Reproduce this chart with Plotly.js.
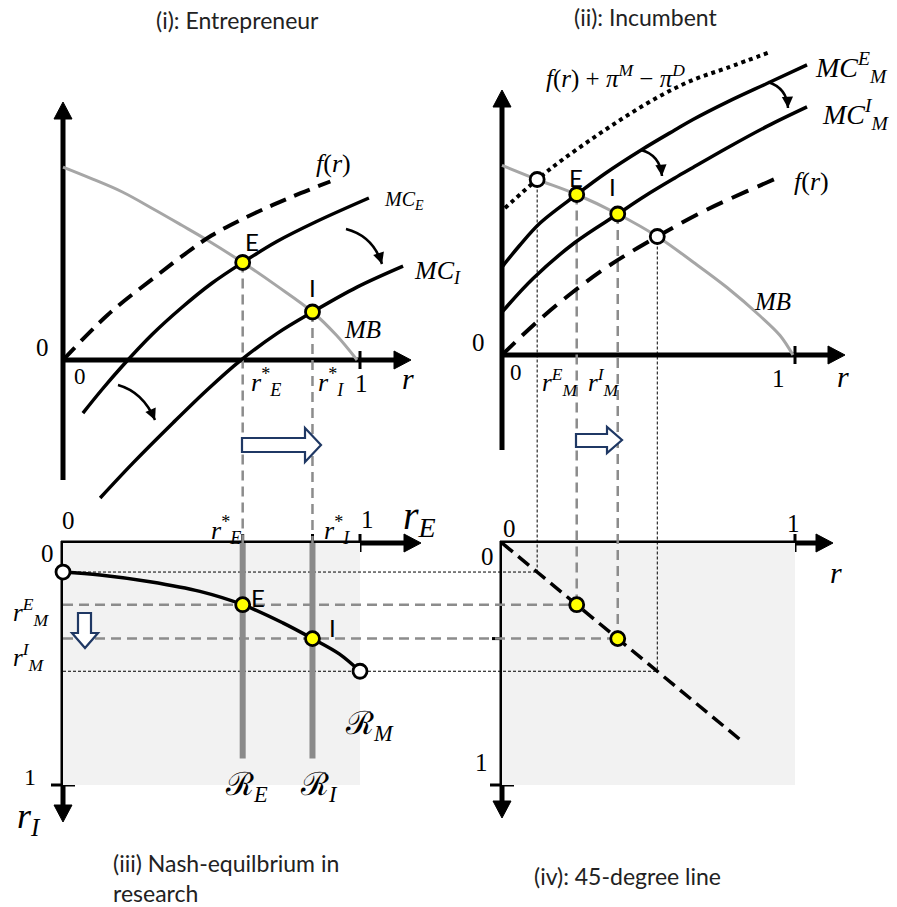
<!DOCTYPE html>
<html>
<head>
<meta charset="utf-8">
<script src="https://cdn.plot.ly/plotly-3.0.1.min.js"></script>
<style>
  html, body { margin: 0; padding: 0; background: #fff; }
  #chart { width: 897px; height: 907px; }
</style>
</head>
<body>
<div id="chart"></div>
<script>
// ---------------- data ----------------
// (i) Entrepreneur: marginal benefit, f(r) and marginal cost curves
const mbEntR = [0, 0.1, 0.2, 0.31, 0.40, 0.485, 0.605, 0.72, 0.84, 0.92, 0.99];
const mbEntV = [0.643, 0.603, 0.56, 0.50, 0.449, 0.40, 0.325, 0.247, 0.16, 0.083, 0];
const fEntR = [0, 0.15, 0.31, 0.42, 0.50, 0.605, 0.707, 0.80, 0.90];
const fEntV = [0, 0.15, 0.277, 0.36, 0.415, 0.47, 0.517, 0.556, 0.595];
const mcER = [0.067, 0.13, 0.2, 0.3, 0.4, 0.5, 0.605, 0.72, 0.85, 1.03];
const mcEV = [-0.177, -0.10, -0.02, 0.085, 0.175, 0.255, 0.325, 0.395, 0.46, 0.54];
const mcIR = [0.125, 0.236, 0.37, 0.485, 0.596, 0.72, 0.84, 0.99, 1.145];
const mcIV = [-0.46, -0.343, -0.21, -0.10, -0.003, 0.088, 0.16, 0.243, 0.313];
const rStar = [0.605, 0.84];        // r_E*, r_I*
const mbAtStar = [0.325, 0.16];     // MB at E and I

// (ii) Incumbent
const mbMR = [0, 0.12, 0.255, 0.395, 0.53, 0.652, 0.768, 0.881, 0.949, 0.993];
const mbMV = [0.632, 0.585, 0.535, 0.47, 0.395, 0.31, 0.225, 0.13, 0.065, 0];
const fMR = [0, 0.119, 0.242, 0.369, 0.53, 0.686, 0.788, 0.904, 0.932];
const fMV = [0, 0.11, 0.21, 0.30, 0.395, 0.478, 0.525, 0.575, 0.587];
const fPiR = [0.01, 0.12, 0.205, 0.317, 0.43, 0.546, 0.652, 0.768, 0.915];
const fPiV = [0.49, 0.585, 0.65, 0.727, 0.80, 0.867, 0.917, 0.957, 1.01];
const mcMER = [0, 0.06, 0.13, 0.255, 0.352, 0.478, 0.59, 0.652, 0.768, 0.904, 1.041];
const mcMEV = [0.293, 0.365, 0.44, 0.535, 0.605, 0.685, 0.75, 0.785, 0.843, 0.905, 0.967];
const mcMIR = [0, 0.106, 0.249, 0.395, 0.488, 0.59, 0.652, 0.768, 0.904, 1.041];
const mcMIV = [0.143, 0.255, 0.375, 0.47, 0.53, 0.59, 0.625, 0.69, 0.762, 0.827];
const rM = [0.255, 0.395];          // r_M^E, r_M^I
const mbAtRM = [0.535, 0.47];
const rBounds = [0.12, 0.53];       // incumbent's research when r_E = 0 and r_E = 1
const mbAtBounds = [0.585, 0.395];

// (iii) Reaction functions
const rmRE = [0, 0.125, 0.293, 0.461, 0.605, 0.74, 0.84, 0.93, 1.0];
const rmRI = [0.12, 0.132, 0.16, 0.2, 0.255, 0.33, 0.395, 0.458, 0.53];
const reactRI = [0, 0.89];

// (iv) 45-degree line
const diagR = [0, 0.81];

// ---------------- frames ----------------
const W = 897, H = 907;
// origin pixel and pixels per unit for each coordinate system
const FX_L = {o: 63, u: 297};
const FX_R = {o: 502, u: 293};
const FY_I = {o: 360, u: 300, down: false};
const FY_II = {o: 355, u: 300, down: false};
const FY_B = {o: 543, u: 242, down: true};

const xr = f => [-f.o / f.u, (W - f.o) / f.u];
const yr = f => f.down ? [(H - f.o) / f.u, -f.o / f.u] : [(f.o - H) / f.u, f.o / f.u];
const ypx = (f, v) => f.down ? f.o + v * f.u : f.o - v * f.u;
const yval = (f, p) => f.down ? (p - f.o) / f.u : (f.o - p) / f.u;
const xpx = (f, v) => f.o + v * f.u;
const xval = (f, p) => (p - f.o) / f.u;
const X = p => p / W, Y = p => 1 - p / H;

const SERIF = '"Liberation Serif", "DejaVu Serif", serif';
const SANS = 'Lato, "Open Sans", sans-serif';
const GUIDE = '#8c8c8c';

// ---------------- traces ----------------
const traces = [];
function curve(x, y, xa, ya, color, width, dash) {
  traces.push({type: 'scatter', mode: 'lines', x, y, xaxis: xa, yaxis: ya,
    line: {color, width, dash: dash || 'solid', shape: 'spline', smoothing: 1},
    hoverinfo: 'skip'});
}
function points(x, y, xa, ya, fill) {
  traces.push({type: 'scatter', mode: 'markers', x, y, xaxis: xa, yaxis: ya,
    marker: {size: 14, color: fill, line: {color: '#000', width: 2.8}},
    hoverinfo: 'skip', cliponaxis: false});
}

// (i)
curve(mbEntR, mbEntV, 'x', 'y', '#a6a6a6', 3);
curve(fEntR, fEntV, 'x', 'y', '#000', 4, '17px,9px');
curve(mcER, mcEV, 'x', 'y', '#000', 3.5);
curve(mcIR, mcIV, 'x', 'y', '#000', 3.5);
// (ii)
curve(mbMR, mbMV, 'x2', 'y2', '#a6a6a6', 3);
curve(fMR, fMV, 'x2', 'y2', '#000', 4, '18px,10px');
curve(fPiR, fPiV, 'x2', 'y2', '#000', 4, 'dot');
curve(mcMER, mcMEV, 'x2', 'y2', '#000', 3.5);
curve(mcMIR, mcMIV, 'x2', 'y2', '#000', 3.5);
// (iii)
rStar.forEach(r => curve([r, r], reactRI, 'x', 'y3', '#8a8a8a', 6));
curve(rmRE, rmRI, 'x', 'y3', '#000', 3.5);
// (iv)
curve(diagR, diagR, 'x2', 'y3', '#000', 3.5, '14px,7px');

// equilibrium and boundary points
points(rStar, mbAtStar, 'x', 'y', '#ffff00');
points(rBounds, mbAtBounds, 'x2', 'y2', '#ffffff');
points(rM, mbAtRM, 'x2', 'y2', '#ffff00');
points([0, 1], rBounds, 'x', 'y3', '#ffffff');
points(rStar, rM, 'x', 'y3', '#ffff00');
points(rM, rM, 'x2', 'y3', '#ffff00');

// ---------------- shapes ----------------
const shapes = [];
// shaded unit squares of the lower panels
shapes.push({type: 'rect', xref: 'x', yref: 'y3', x0: 0, x1: 1, y0: 0, y1: 1,
  fillcolor: '#f2f2f2', line: {width: 0}, layer: 'below'});
shapes.push({type: 'rect', xref: 'x2', yref: 'y3', x0: 0, x1: 1, y0: 0, y1: 1,
  fillcolor: '#f2f2f2', line: {width: 0}, layer: 'below'});

function seg(xref, yref, x0, y0, x1, y1, color, width, dash) {
  shapes.push({type: 'line', xref, yref, x0, y0, x1, y1,
    line: {color, width, dash}, layer: 'below'});
}
// guides from panel (i) down to the r_E axis of panel (iii)
rStar.forEach((r, i) => seg('x', 'y', r, mbAtStar[i], r, yval(FY_I, ypx(FY_B, 0)), GUIDE, 2.5, '10px,6px'));
// guides from panel (ii) down to the 45-degree line
rM.forEach((r, i) => seg('x2', 'y2', r, mbAtRM[i], r, yval(FY_II, ypx(FY_B, r)), GUIDE, 2.5, '10px,6px'));
rBounds.forEach((r, i) => seg('x2', 'y2', r, mbAtBounds[i], r, yval(FY_II, ypx(FY_B, r)), '#000', 1, '3px,2px'));
// horizontal guides from the r_I axis across to panel (iv)
const leftEdge = xval(FX_R, xpx(FX_L, 0));
rM.forEach(r => seg('x2', 'y3', leftEdge, r, r, r, GUIDE, 2.5, '10px,6px'));
rBounds.forEach(r => seg('x2', 'y3', leftEdge, r, r, r, '#000', 1, '3px,2px'));

// axes with arrowheads (pixel frame)
function axis(x0, y0, x1, y1) {
  shapes.push({type: 'line', xref: 'paper', yref: 'paper', x0: X(x0), y0: Y(y0), x1: X(x1), y1: Y(y1),
    line: {color: '#000', width: 5}, layer: 'below'});
}
function head(tx, ty, dir) {
  const L = 17, h = 9;
  let p;
  if (dir === 'up') p = [[tx, ty], [tx - h, ty + L], [tx + h, ty + L]];
  else if (dir === 'down') p = [[tx, ty], [tx - h, ty - L], [tx + h, ty - L]];
  else p = [[tx, ty], [tx - L, ty - h], [tx - L, ty + h]];
  shapes.push({type: 'path', xref: 'paper', yref: 'paper',
    path: 'M' + p.map(q => X(q[0]) + ',' + Y(q[1])).join(' L') + ' Z',
    fillcolor: '#000', line: {color: '#000', width: 1}, layer: 'below'});
}
function tick(x0, y0, x1, y1) {
  shapes.push({type: 'line', xref: 'paper', yref: 'paper', x0: X(x0), y0: Y(y0), x1: X(x1), y1: Y(y1),
    line: {color: '#000', width: 3}, layer: 'below'});
}
// (i)
axis(FX_L.o, 480, FX_L.o, 112); head(FX_L.o, 102, 'up');
axis(FX_L.o - 2, FY_I.o, 400, FY_I.o); head(411, FY_I.o, 'right');
tick(xpx(FX_L, 1), FY_I.o - 9, xpx(FX_L, 1), FY_I.o + 9);
// (ii)
axis(FX_R.o, 450, FX_R.o, 100); head(FX_R.o, 90, 'up');
axis(FX_R.o - 2, FY_II.o, 834, FY_II.o); head(845, FY_II.o, 'right');
tick(xpx(FX_R, 1), FY_II.o - 9, xpx(FX_R, 1), FY_II.o + 9);
// (iii)
axis(FX_L.o - 2, FY_B.o, 410, FY_B.o); head(421, FY_B.o, 'right');
axis(FX_L.o, FY_B.o - 2, FX_L.o, 812); head(FX_L.o, 822, 'down');
rStar.concat([1]).forEach(r => tick(xpx(FX_L, r), FY_B.o - 9, xpx(FX_L, r), FY_B.o + 9));
tick(FX_L.o - 12, ypx(FY_B, 1), FX_L.o + 12, ypx(FY_B, 1));
// (iv)
axis(FX_R.o - 2, FY_B.o, 822, FY_B.o); head(833, FY_B.o, 'right');
axis(FX_R.o, FY_B.o - 2, FX_R.o, 808); head(FX_R.o, 818, 'down');
tick(xpx(FX_R, 1), FY_B.o - 9, xpx(FX_R, 1), FY_B.o + 9);
tick(FX_R.o - 12, ypx(FY_B, 1), FX_R.o + 12, ypx(FY_B, 1));
tick(FX_R.o - 10, ypx(FY_B, rM[1]), FX_R.o + 12, ypx(FY_B, rM[1]));

// hollow block arrows
function block(pts) {
  shapes.push({type: 'path', xref: 'paper', yref: 'paper',
    path: 'M' + pts.map(q => X(q[0]) + ',' + Y(q[1])).join(' L') + ' Z',
    fillcolor: '#ffffff', line: {color: '#1f3864', width: 2.2}, layer: 'above'});
}
block([[242, 438], [305, 438], [305, 428], [321, 445], [305, 462], [305, 452], [242, 452]]);
block([[576, 434], [607, 434], [607, 427], [622, 440], [607, 453], [607, 447], [576, 447]]);
block([[78, 613], [78, 633], [72, 633], [85, 648], [98, 633], [91, 633], [91, 613]]);

// ---------------- annotations ----------------
const annotations = [];
function T(x, y, text, size, o = {}) {
  annotations.push({xref: 'paper', yref: 'paper', x: X(x), y: Y(y), text, showarrow: false,
    xanchor: o.xa || 'center', yanchor: o.ya || 'middle', align: o.align || 'center',
    font: {family: o.family || SERIF, size, color: o.color || '#000'}});
}
// symbol with superscript and subscript, e.g. r*_E or MC^E_M
function script(left, cy, base, sup, sub, size) {
  T(left, cy, '<i>' + base + '</i><sup>' + sup + '</sup><sub><i>' + sub + '</i></sub>', size, {xa: 'left'});
}
// curved shift arrows
function curvedArrow(p0, c, p1) {
  shapes.push({type: 'path', xref: 'paper', yref: 'paper',
    path: 'M' + X(p0[0]) + ',' + Y(p0[1]) + ' Q' + X(c[0]) + ',' + Y(c[1]) + ' ' + X(p1[0]) + ',' + Y(p1[1]),
    line: {color: '#000', width: 2.5}, layer: 'above'});
  const dx = p1[0] - c[0], dy = p1[1] - c[1], L = Math.hypot(dx, dy);
  annotations.push({xref: 'paper', yref: 'paper', x: X(p1[0]), y: Y(p1[1]),
    ax: -dx / L * 12, ay: -dy / L * 12, text: '', showarrow: true,
    arrowhead: 2, arrowsize: 0.9, arrowwidth: 2.5, arrowcolor: '#000', standoff: 0});
}
curvedArrow([346, 229], [373, 236], [382, 264]);
curvedArrow([118, 385], [143, 392], [155, 420]);
curvedArrow([641, 150], [660, 155], [662, 176]);
curvedArrow([768, 82], [787, 88], [788, 108]);

// panel titles
const TITLE = {family: SANS, color: '#222'};
T(237, 20, '(i): Entrepreneur', 23, TITLE);
T(645, 17, '(ii): Incumbent', 23, TITLE);
T(111, 878, '(iii) Nash-equilbrium in<br>research', 23, Object.assign({xa: 'left', align: 'left'}, TITLE));
T(627, 876, '(iv): 45-degree line', 23, TITLE);

// (i) labels
T(333, 164, '<i>f</i>(<i>r</i>)', 26);
T(382, 200, '<i>MC</i><sub><i>E</i></sub>', 20, {xa: 'left'});
T(412, 272, '<i>MC</i><sub><i>I</i></sub>', 26, {xa: 'left'});
T(362, 329, '<i>MB</i>', 25);
T(252, 241, 'E', 24, {family: SANS});
T(312, 288, 'I', 24, {family: SANS});
T(42, 348, '0', 25); T(80, 376, '0', 23); T(361, 383, '1', 25);
T(408, 379, '<i>r</i>', 30);
script(249, 382, 'r', '*', 'E', 26);
script(316, 382, 'r', '*', 'I', 26);

// (ii) labels
T(615, 76, '<i>f</i>(<i>r</i>) + <i>π</i><sup><i>M</i></sup> − <i>π</i><sup><i>D</i></sup>', 25);
script(813, 67, 'MC', '<i>E</i>', 'M', 28);
script(820, 114, 'MC', '<i>I</i>', 'M', 28);
T(811, 182, '<i>f</i>(<i>r</i>)', 26);
T(772, 301, '<i>MB</i>', 25);
T(576, 177, 'E', 24, {family: SANS});
T(612, 187, 'I', 24, {family: SANS});
T(478, 343, '0', 25); T(516, 372, '0', 23); T(778, 378, '1', 25);
T(843, 376, '<i>r</i>', 30);
script(540, 382, 'r', '<i>E</i>', 'M', 25);
script(586, 382, 'r', '<i>I</i>', 'M', 25);

// (iii) labels
T(68, 520, '0', 25); T(367, 519, '1', 25); T(47, 553, '0', 25); T(30, 777, '1', 24);
script(209, 530, 'r', '*', 'E', 26);
script(322, 530, 'r', '*', 'I', 26);
T(401, 518, '<i>r</i><sub><i>E</i></sub>', 40, {xa: 'left'});
T(15, 818, '<i>r</i><sub><i>I</i></sub>', 36, {xa: 'left'});
script(11, 612, 'r', '<i>E</i>', 'M', 25);
script(11, 657, 'r', '<i>I</i>', 'M', 25);
T(258, 597, 'E', 24, {family: SANS});
T(332, 627, 'I', 24, {family: SANS});
T(223, 786, 'ℛ<sub><i>E</i></sub>', 32, {xa: 'left'});
T(298, 786, 'ℛ<sub><i>I</i></sub>', 32, {xa: 'left'});
T(343, 725, 'ℛ<sub><i>M</i></sub>', 32, {xa: 'left'});

// (iv) labels
T(510, 528, '0', 25); T(793, 523, '1', 25); T(487, 556, '0', 25); T(481, 762, '1', 25);
T(836, 572, '<i>r</i>', 30);

// ---------------- layout ----------------
const hidden = {visible: false, fixedrange: true, showgrid: false, zeroline: false};
const layout = {
  width: W, height: H,
  margin: {l: 0, r: 0, t: 0, b: 0, pad: 0},
  showlegend: false,
  paper_bgcolor: '#ffffff', plot_bgcolor: 'rgba(0,0,0,0)',
  xaxis: Object.assign({}, hidden, {range: xr(FX_L)}),
  xaxis2: Object.assign({}, hidden, {range: xr(FX_R), overlaying: 'x'}),
  yaxis: Object.assign({}, hidden, {range: yr(FY_I)}),
  yaxis2: Object.assign({}, hidden, {range: yr(FY_II), overlaying: 'y'}),
  yaxis3: Object.assign({}, hidden, {range: yr(FY_B), overlaying: 'y'}),
  shapes, annotations
};

Plotly.newPlot('chart', traces, layout, {staticPlot: true, displayModeBar: false});
</script>
</body>
</html>
